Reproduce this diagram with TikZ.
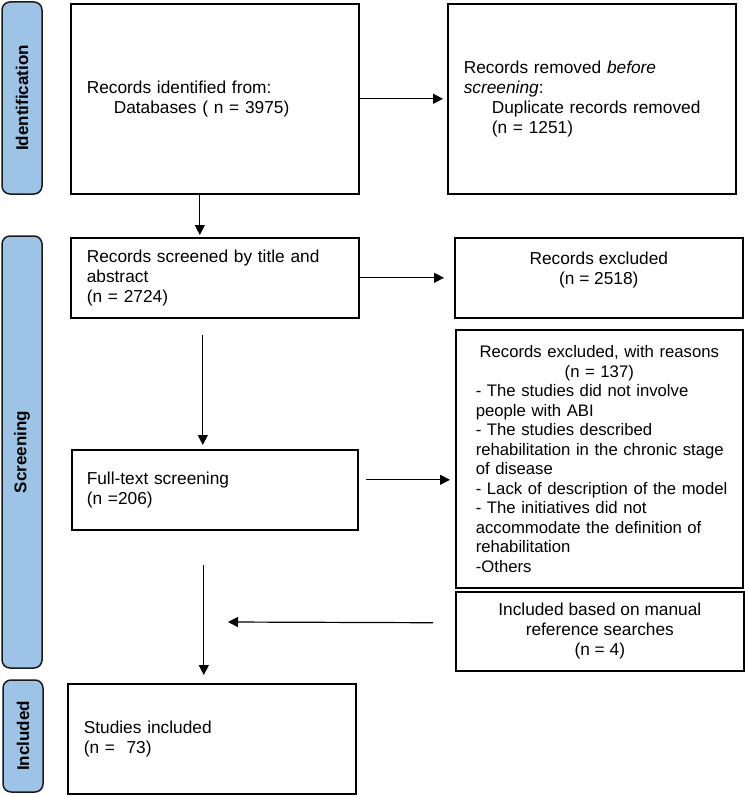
\documentclass[tikz,border=0pt]{standalone}
\usepackage{fontspec}
\setmainfont{Liberation Sans}
\usetikzlibrary{arrows.meta}
\definecolor{barblue}{HTML}{9DC3E6}
\definecolor{barline}{HTML}{1A1A1A}
\begin{document}
\begin{tikzpicture}[x=1pt,y=-1pt,
  box/.style={draw=black, line width=1.6pt, inner ysep=0pt, anchor=north west,
    font=\fontsize{17.3pt}{20pt}\selectfont},
  lbox/.style={box, align=left, inner xsep=16pt, text width=256pt},
  cbox/.style={box, align=center, inner xsep=10pt},
  bar/.style={draw=barline, line width=1.5pt, fill=barblue, rounded corners=8pt,
    rotate=90, inner sep=0pt, font=\fontsize{17pt}{20pt}\selectfont\bfseries},
  arr/.style={draw=black, line width=1.2pt, -{Triangle[length=10pt,width=10pt]}}]
\useasboundingbox (0,0) rectangle (744,797);

% phase bars
\node[bar, minimum width=192pt, minimum height=40pt] (idbar) at (22,98) {Identification};
\node[bar, minimum width=432pt, minimum height=40pt] (scbar) at (22,452) {Screening};
\node[bar, minimum width=112pt, minimum height=40pt] (inbar) at (23,736) {Included};

% boxes
\node[lbox, minimum width=288pt, minimum height=190pt] (b1) at (70,3)
  {Records identified from:\\\hspace*{27pt}Databases ( n = 3975)};
\node[lbox, minimum width=288pt, minimum height=190pt] (b2) at (447,3)
  {Records removed \textit{before}\\\textit{screening}:\\\hspace*{28pt}Duplicate records removed\\\hspace*{28pt}(n = 1251)};
\node[lbox, minimum width=288pt, minimum height=80pt] (b3) at (70,237)
  {Records screened by title and\\abstract\\(n = 2724)};
\node[cbox, minimum width=288pt, minimum height=80pt] (b4) at (454,237)
  {Records excluded\\(n = 2518)\\\mbox{}};
\node[box, align=center, inner xsep=20pt, text width=247pt, minimum height=258pt,
  font=\fontsize{16.7pt}{19.5pt}\selectfont] (b5) at (455,329)
  {Records excluded, with reasons\\(n = 137)\\
   \makebox[247pt][l]{- The studies did not involve}\\
   \makebox[247pt][l]{people with ABI}\\
   \makebox[247pt][l]{- The studies described}\\
   \makebox[247pt][l]{rehabilitation in the chronic stage}\\
   \makebox[247pt][l]{of disease}\\
   \makebox[247pt][l]{- Lack of description of the model}\\
   \makebox[247pt][l]{- The initiatives did not}\\
   \makebox[247pt][l]{accommodate the definition of}\\
   \makebox[247pt][l]{rehabilitation}\\
   \makebox[247pt][l]{-Others}};
\node[lbox, inner xsep=15pt, minimum width=286pt, minimum height=80pt] (b6) at (71,449)
  {Full-text screening\\(n =206)};
\node[cbox, minimum width=288pt, minimum height=79pt] (b8) at (455,591)
  {Included based on manual\\reference searches\\(n = 4)};
\node[lbox, minimum width=288pt, minimum height=110pt] (b7) at (67,683)
  {Studies included\\(n = \ 73)};

% connectors
\draw[arr, shorten >=4pt] (b1.east) -- (b2.west);
\draw[arr, shorten >=2pt] ([xshift=-15pt]b1.south) -- ([xshift=-15pt]b3.north);
\draw[arr, shorten >=10pt] (b3.east) -- (b4.west);
\draw[arr, shorten <=16pt, shorten >=4pt] ([xshift=-12pt]b3.south) -- ([xshift=-12pt]b6.north);
\coordinate (a6) at ([yshift=10pt]b6.east);
\draw[arr, shorten <=7pt, shorten >=5pt] (a6) -- (a6 -| b5.west);
\coordinate (a8) at ([yshift=8.5pt]b8.west);
\coordinate (e8) at (228,622);
\draw[arr, shorten <=22pt] (a8) -- (e8);
\draw[arr, shorten <=34pt, shorten >=8pt] ([xshift=-11pt]b6.south) -- ([xshift=-8pt]b7.north);
\end{tikzpicture}
\end{document}
